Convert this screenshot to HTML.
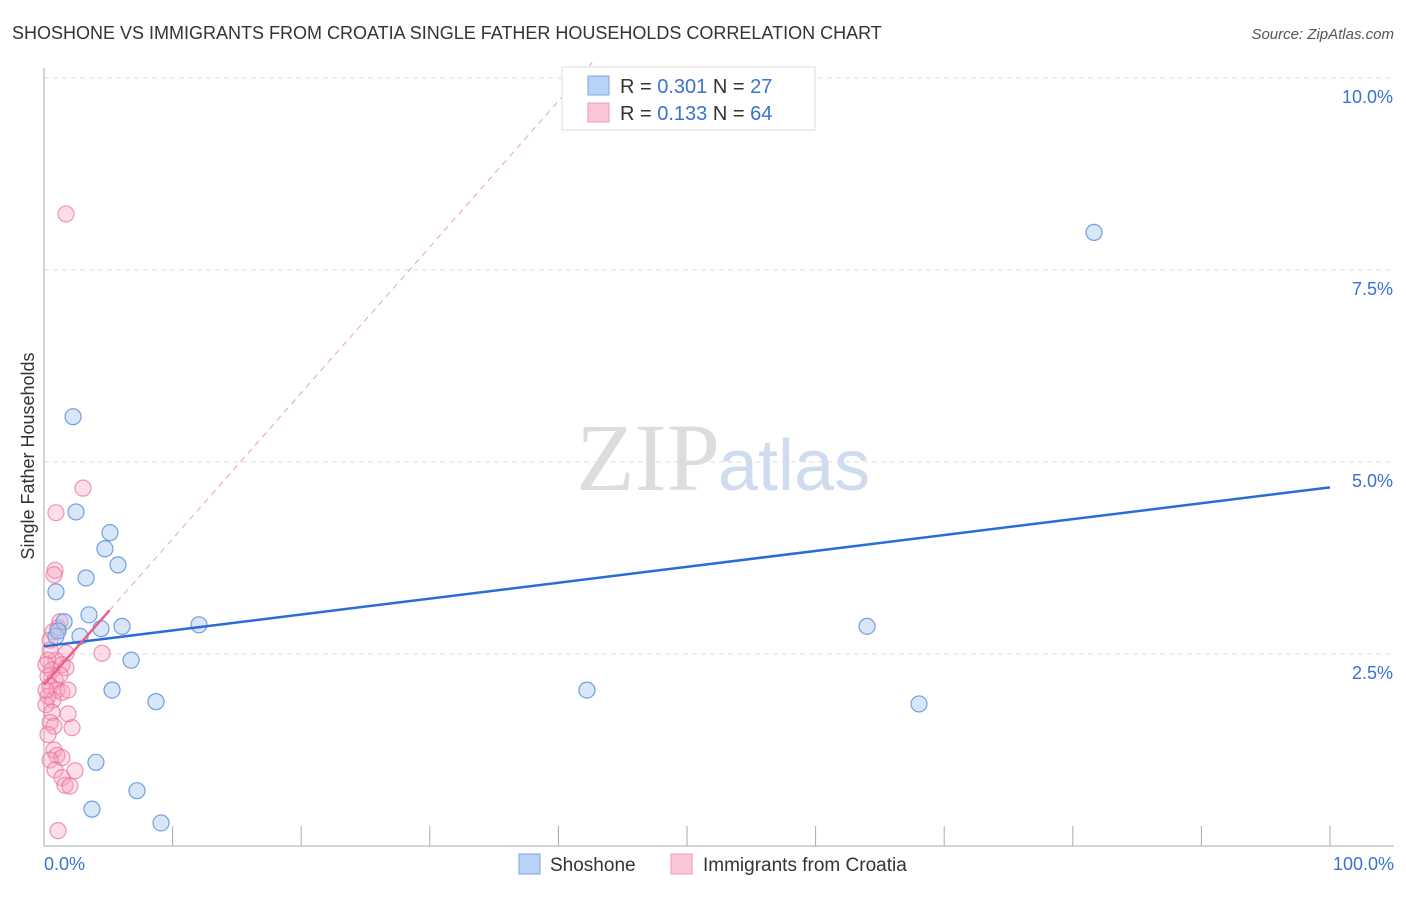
<!DOCTYPE html>
<html><head><meta charset="utf-8"><style>
body{margin:0;background:#fff;font-family:"Liberation Sans",sans-serif}
svg text{font-family:"Liberation Sans",sans-serif}
</style></head><body>
<svg id="chart" width="1406" height="892" xmlns="http://www.w3.org/2000/svg">
<text x="12" y="39" font-size="18" fill="#333">SHOSHONE VS IMMIGRANTS FROM CROATIA SINGLE FATHER HOUSEHOLDS CORRELATION CHART</text>
<text x="1394" y="39" font-size="15" fill="#555" font-style="italic" text-anchor="end">Source: ZipAtlas.com</text>
<text x="720" y="490" font-size="96" font-family="Liberation Serif" fill="#ddd" text-anchor="end" style="font-family:'Liberation Serif',serif">ZIP</text>
<text x="718" y="490" font-size="72" fill="#cfdcf0">atlas</text>
<text x="34" y="456" font-size="18" fill="#333" text-anchor="middle" transform="rotate(-90 34 456)">Single Father Households</text>
<g id="grid"></g><g id="pts"></g><g id="lines"></g>
<g>
<rect x="562" y="67" width="253" height="63" fill="#fff" stroke="#ddd"/>
<rect x="588" y="76" width="21" height="19" fill="#b8d3f5" stroke="#7aa8e6"/>
<rect x="588" y="103" width="21" height="19" fill="#fbc6d6" stroke="#f19ab5"/>
<text x="620" y="93" font-size="20" fill="#333">R = <tspan fill="#3a72d0">0.301</tspan>   N = <tspan fill="#3a72d0">27</tspan></text>
<text x="620" y="120" font-size="20" fill="#333">R = <tspan fill="#3a72d0"> 0.133</tspan>   N = <tspan fill="#3a72d0">64</tspan></text>
</g>
<g>
<rect x="519" y="854" width="21" height="20" fill="#b8d3f5" stroke="#7aa8e6"/>
<text x="550" y="871" font-size="19" fill="#333">Shoshone</text>
<rect x="671" y="854" width="21" height="20" fill="#fbc6d6" stroke="#f19ab5"/>
<text x="703" y="871" font-size="19" fill="#333">Immigrants from Croatia</text>
</g>
</svg>
<script>
const yTicks=[2.5,5.0,7.5,10.0];
const xTickCount=10;
const blueX=[2.26,2.49,5.13,4.74,5.75,3.27,0.93,3.50,1.56,4.43,6.07,2.80,0.93,12.05,6.77,5.29,8.71,4.04,7.23,3.73,9.10,81.65,64.0,68.04,42.22,1.09];
const blueY=[5.59,4.35,4.08,3.87,3.66,3.49,3.31,3.01,2.92,2.83,2.86,2.73,2.73,2.88,2.42,2.03,1.88,1.09,0.72,0.48,0.30,7.99,2.86,1.85,2.03,2.80];
const pinkX=[1.71,3.03,0.93,0.86,0.78,1.24,1.09,0.70,0.47,4.51,1.71,0.93,0.31,1.40,0.62,1.71,0.31,0.86,1.24,0.47,1.0,1.4,1.87,0.31,0.7,0.16,1.87,0.62,0.47,2.18,0.78,0.31,0.78,1.0,1.4,0.47,0.86,2.41,1.4,1.63,2.02,1.09,0.16,0.16,0.47];
const pinkY=[8.23,4.66,4.34,3.59,3.53,2.92,2.84,2.79,2.68,2.51,2.51,2.42,2.42,2.36,2.29,2.32,2.21,2.16,2.23,2.08,2.03,2.0,2.03,1.95,1.9,1.84,1.72,1.74,1.61,1.54,1.56,1.45,1.25,1.18,1.15,1.12,0.99,0.98,0.89,0.79,0.78,0.2,2.03,2.36,2.55];
const blueFit=[2.60,4.67];
const pinkFit=[2.10,0.19];
const X=v=>44+v*12.86, Y=v=>846-v*76.8;
const NS='http://www.w3.org/2000/svg';
function mk(t,a,p){const e=document.createElementNS(NS,t);for(const k in a)e.setAttribute(k,a[k]);p.appendChild(e);return e;}
const g=document.getElementById('grid');
yTicks.forEach(t=>{
 const l=mk('line',{x1:44,x2:1394,y1:Y(t),y2:Y(t),stroke:'#ddd','stroke-dasharray':'5,4'},g);
 
 
 const tx=mk('text',{x:1393,y:Y(t)+25,'font-size':18,fill:'#3a72d0','text-anchor':'end'},g);
 tx.textContent=t.toFixed(1)+'%';
 
 
});
mk('line',{x1:44,x2:44,y1:68,y2:846,stroke:'#aaa'},g);
mk('line',{x1:44,x2:1394,y1:846,y2:846,stroke:'#aaa'},g);
for(let i=1;i<=xTickCount;i++){const t=mk('line',{x1:X(i*10),x2:X(i*10),y1:826,y2:846,stroke:'#aaa'},g);
 
 }
[['0.0%',44,'start'],['100.0%',1394,'end']].forEach(([s,x,a])=>{const t=mk('text',{x:x,y:870,'font-size':18,fill:'#3a72d0','text-anchor':a},g);t.textContent=s;
 
 });
const p=document.getElementById('pts');
pinkX.forEach((x,i)=>{const c=mk('circle',{cx:X(x),cy:Y(pinkY[i]),r:8,fill:'rgba(246,160,188,0.35)',stroke:'rgba(232,110,150,0.7)','stroke-width':1.2},p);
 
 });
blueX.forEach((x,i)=>{const c=mk('circle',{cx:X(x),cy:Y(blueY[i]),r:8,fill:'rgba(170,200,240,0.45)',stroke:'#6f9fe0','stroke-width':1.2},p);
 
 });
const L=document.getElementById('lines');
const bl=mk('line',{x1:X(0),y1:Y(blueFit[0]),x2:X(100),y2:Y(blueFit[1]),stroke:'#2a6dd6','stroke-width':2.5},L);


const xe=(10.2-pinkFit[0])/pinkFit[1];
const pd=mk('line',{x1:X(5.1),y1:Y(pinkFit[0]+pinkFit[1]*5.1),x2:X(xe),y2:Y(10.2),stroke:'#eaa0b8','stroke-width':1,'stroke-dasharray':'6,5'},L);


const pl=mk('line',{x1:X(0),y1:Y(pinkFit[0]),x2:X(5.1),y2:Y(pinkFit[0]+pinkFit[1]*5.1),stroke:'#e8608a','stroke-width':2.5},L);


</script>
</body></html>
